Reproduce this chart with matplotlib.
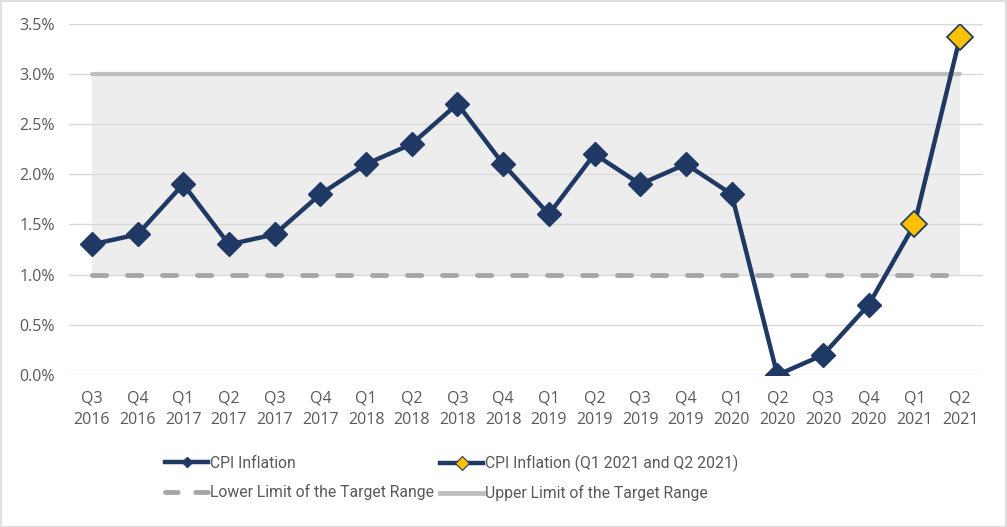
import matplotlib
matplotlib.use("Agg")
import matplotlib.pyplot as plt
from matplotlib.lines import Line2D
from matplotlib.patches import Rectangle

quarters = ["Q3", "Q4", "Q1", "Q2", "Q3", "Q4", "Q1", "Q2", "Q3", "Q4",
            "Q1", "Q2", "Q3", "Q4", "Q1", "Q2", "Q3", "Q4", "Q1", "Q2"]
years = ["2016", "2016", "2017", "2017", "2017", "2017", "2018", "2018", "2018", "2018",
         "2019", "2019", "2019", "2019", "2020", "2020", "2020", "2020", "2021", "2021"]
cpi = [1.3, 1.4, 1.9, 1.3, 1.4, 1.8, 2.1, 2.3, 2.7, 2.1,
       1.6, 2.2, 1.9, 2.1, 1.8, 0.0, 0.2, 0.7, 1.5, 3.37]
highlight_idx = [18, 19]
lower_limit = 1.0
upper_limit = 3.0
yticks = [0.0, 0.5, 1.0, 1.5, 2.0, 2.5, 3.0, 3.5]

plt.rcParams['font.family'] = ['Open Sans', 'DejaVu Sans']
legend_family, legend_size = ["Roboto", "DejaVu Sans"], 11.3

W, H = 1007, 527
fig = plt.figure(figsize=(W / 100, H / 100), dpi=100)
fig.patches.append(Rectangle((0.5 / W, 0.5 / H), 1 - 1.5 / W, 1 - 1.5 / H, transform=fig.transFigure,
                             fill=False, edgecolor="#d9d9d9", linewidth=1.2))
ax = fig.add_axes([69 / W, 1 - 375 / H, (983 - 69) / W, (375 - 23.5) / H])

navy = "#203864"
x = list(range(len(cpi)))
ax.set_xlim(-0.5, len(cpi) - 0.5)
ax.set_ylim(0, 3.5)

# target range band
ax.fill_between([x[0], x[-1]], lower_limit, upper_limit, color="#ededed", zorder=0, linewidth=0)
ax.set_yticks(yticks)
for yv in yticks:
    ax.axhline(yv, color="#d9d9d9", linewidth=1, zorder=1)

ax.plot([x[0], x[-1]], [upper_limit] * 2, color="#bfbfbf", linewidth=3, solid_capstyle="round", zorder=2)
ax.plot([x[0], x[-1]], [lower_limit] * 2, color="#a6a6a6", linewidth=3.5, dashes=(2.9, 4.3),
        dash_capstyle="round", zorder=2)

ax.plot(x, cpi, color=navy, linewidth=3.2, marker="D", markersize=12, markerfacecolor=navy,
        markeredgecolor=navy, zorder=3)
ax.plot([x[i] for i in highlight_idx], [cpi[i] for i in highlight_idx], linestyle="none",
        marker="D", markersize=13.5, markerfacecolor="#ffc000", markeredgecolor=navy,
        markeredgewidth=1.2, zorder=4)

for s in ax.spines.values():
    s.set_visible(False)
ax.set_xticks(x)
ax.set_xticklabels([f"{q}\n{yv}" for q, yv in zip(quarters, years)], linespacing=1.45)
ax.yaxis.set_major_formatter(matplotlib.ticker.FuncFormatter(lambda v, p: f"{v:.1f}%"))
ax.tick_params(axis="both", length=0, labelsize=11.5, labelcolor="#595959")
ax.tick_params(axis="x", pad=11)
ax.tick_params(axis="y", pad=10)

handles = [
    Line2D([], [], color=navy, linewidth=3.2, marker="D", markersize=5, markerfacecolor=navy),
    Line2D([], [], color="#a6a6a6", linewidth=3.5, dashes=(2.6, 3.6), dash_capstyle="round"),
    Line2D([], [], color=navy, linewidth=3.2, marker="D", markersize=7, markerfacecolor="#ffc000",
           markeredgecolor=navy, markeredgewidth=0.8),
    Line2D([], [], color="#bfbfbf", linewidth=3.5),
]
labels = ["CPI Inflation", "Lower Limit of the Target Range",
          "CPI Inflation (Q1 2021 and Q2 2021)", "Upper Limit of the Target Range"]
legend_x = [165, 440]
handle_px = 43
for col in range(2):
    leg = fig.legend(handles[2 * col:2 * col + 2], labels[2 * col:2 * col + 2], loc="center left",
                     bbox_to_anchor=(legend_x[col] / W, 1 - 478 / H), borderaxespad=0, borderpad=0,
                     frameon=False, prop={"family": legend_family, "size": legend_size},
                     handlelength=handle_px / (legend_size * 100 / 72), handletextpad=0.1,
                     labelspacing=0.85)
    for t in leg.get_texts():
        t.set_color("#595959")

fig.savefig("out.png", dpi=100)
